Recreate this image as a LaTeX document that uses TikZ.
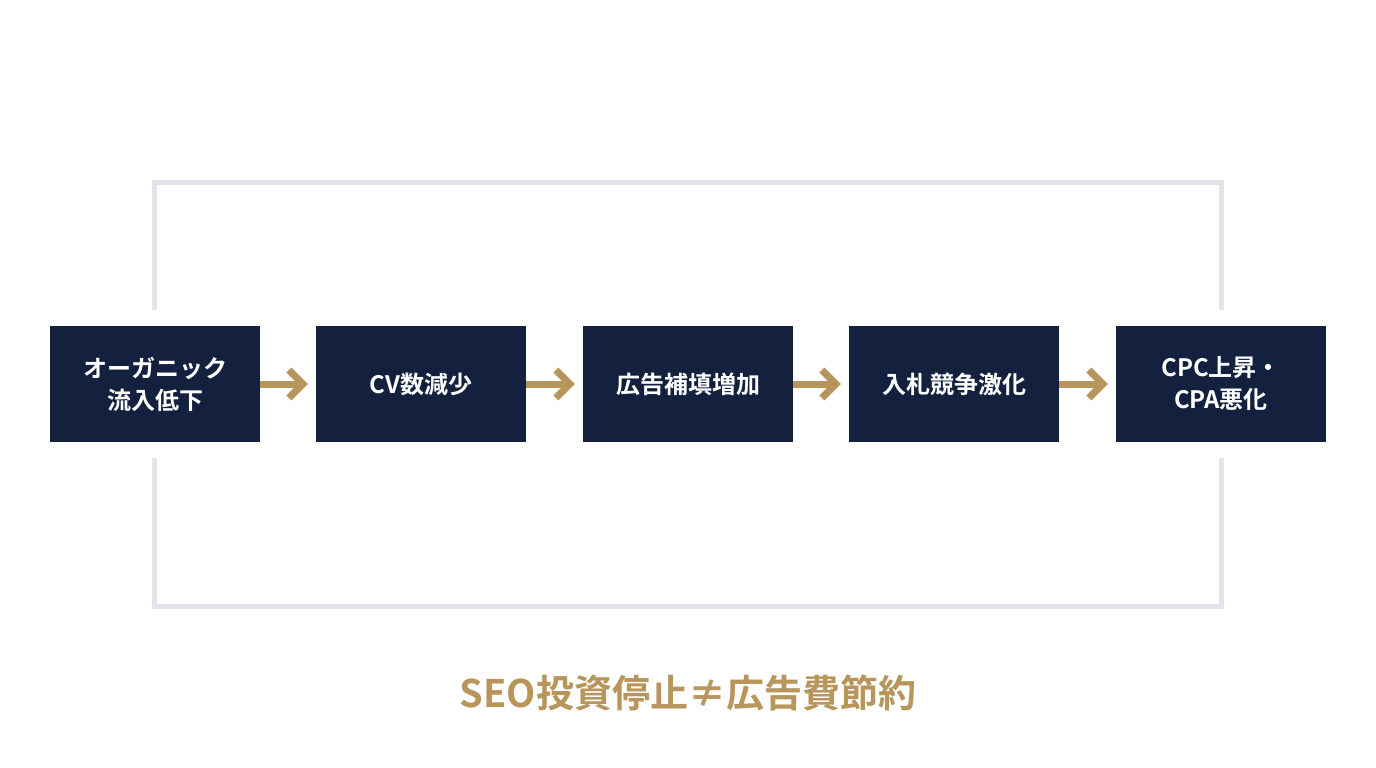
\documentclass[tikz,border=0pt]{standalone}
\usepackage{fontspec}
\newfontfamily\cjk{Noto Sans CJK JP Bold}
\usetikzlibrary{arrows.meta}
\definecolor{navy}{HTML}{13213F}
\definecolor{gold}{HTML}{B8955A}
\definecolor{loopgray}{HTML}{E1E4EA}
\begin{document}
\begin{tikzpicture}[x=1pt,y=-1pt,
  stepbox/.style={fill=navy,minimum width=210pt,minimum height=116pt,inner sep=0pt,text=white,align=center,font=\cjk\fontsize{24}{32}\selectfont},
  flow/.style={draw=gold,line width=7pt,-{Straight Barb[length=14pt,width=28pt,line width=7pt]}}]
\useasboundingbox (0,0) rectangle (1376,768);
\fill[white] (0,0) rectangle (1376,768);
\draw[loopgray,line width=5pt] (154,310) -- (154,182) -- (1221,182) -- (1221,310);
\draw[loopgray,line width=5pt] (154,458) -- (154,606) -- (1221,606) -- (1221,458);
\node[stepbox] (a) at (155,384) {オーガニック\\流入低下};
\node[stepbox] (b) at (421,384) {CV数減少};
\node[stepbox] (c) at (688,384) {広告補填増加};
\node[stepbox] (d) at (954,384) {入札競争激化};
\node[stepbox] (e) at (1221,384) {CPC上昇・\\CPA悪化};
\draw[flow] (a.east) -- ([xshift=-8pt]b.west);
\draw[flow] (b.east) -- ([xshift=-8pt]c.west);
\draw[flow] (c.east) -- ([xshift=-8pt]d.west);
\draw[flow] (d.east) -- ([xshift=-8pt]e.west);
\node[text=gold,font=\cjk\fontsize{38}{44}\selectfont] (t) at (688,693) {SEO投資停止≠広告費節約};
\end{tikzpicture}
\end{document}
